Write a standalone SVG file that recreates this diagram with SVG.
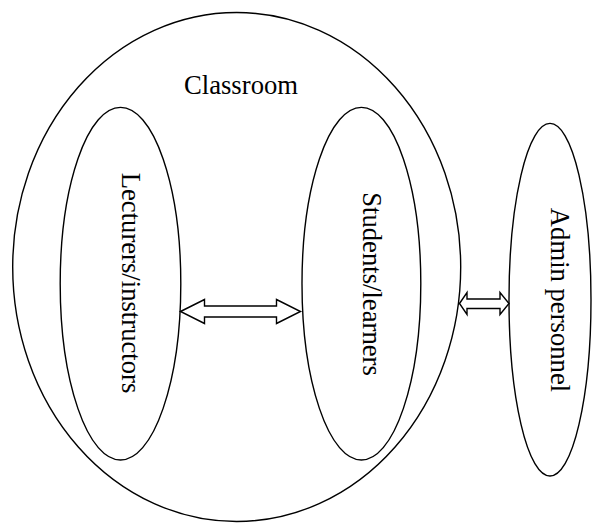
<svg xmlns="http://www.w3.org/2000/svg" width="597" height="523" viewBox="0 0 597 523">
<style>
.shape{fill:none;stroke:#000;stroke-width:1.4}
.arrow{fill:#fff;stroke:#000;stroke-width:1.4;stroke-linejoin:miter}
.lbl{font-family:"Liberation Serif","Times New Roman",serif;font-size:26.67px;fill:#000}
</style>
<rect width="597" height="523" fill="#fff"/>
<g id="classroom">
<ellipse class="shape" cx="236.7" cy="267" rx="224" ry="254.5"/>
<text class="lbl" x="241" y="94" text-anchor="middle">Classroom</text>
</g>
<g id="lecturers">
<ellipse class="shape" cx="120.5" cy="283.7" rx="60.3" ry="176.3"/>
<text class="lbl" x="122" y="283" text-anchor="middle" transform="rotate(90 122 283)">Lecturers/instructors</text>
</g>
<g id="students">
<ellipse class="shape" cx="361.4" cy="283.7" rx="59.4" ry="176.3"/>
<text class="lbl" x="362.5" y="284" text-anchor="middle" transform="rotate(90 362.5 284)">Students/learners</text>
</g>
<g id="admin">
<ellipse class="shape" cx="550" cy="299.7" rx="41" ry="176.3"/>
<text class="lbl" x="550.5" y="300" text-anchor="middle" transform="rotate(90 550.5 300)">Admin personnel</text>
</g>
<g id="connectors">
<polygon class="arrow" points="180.5,311.5 204.5,299.5 204.5,306 276.5,306 276.5,299.5 300.5,311.5 276.5,323.5 276.5,317 204.5,317 204.5,323.5"/>
<polygon class="arrow" points="459.5,303.5 467,292.5 467,299 500,299 500,292.5 509,303.5 500,314.5 500,308.5 467,308.5 467,314.5"/>
</g>
</svg>
